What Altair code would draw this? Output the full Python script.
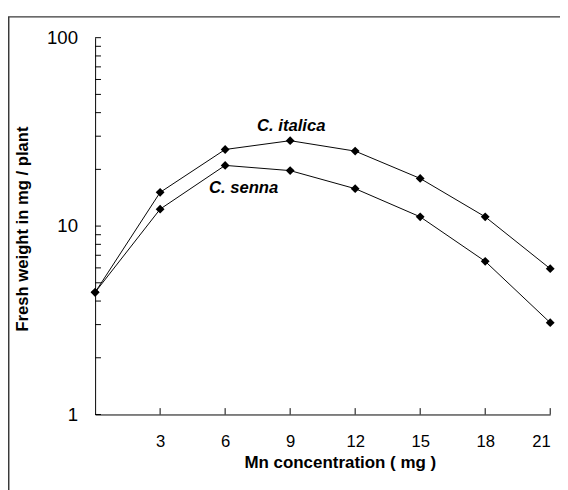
import altair as alt
import pandas as pd

# Data
mn = [0, 3, 6, 9, 12, 15, 18, 21]
italica = [4.45, 15.1, 25.5, 28.4, 25.0, 17.9, 11.2, 5.94]
senna = [4.45, 12.3, 21.0, 19.7, 15.8, 11.2, 6.5, 3.07]

x_tick_values = [3, 6, 9, 12, 15, 18, 21]
y_label_values = [1, 10, 100]
y_tick_values = [1, 2, 3, 4, 5, 6, 7, 8, 9, 10, 20, 30, 40, 50, 60, 70, 80, 90, 100]

label_text = ["C. italica", "C. senna"]
label_x = [9.05, 6.85]
label_y = [34.0, 16.0]

FONT = "Liberation Sans"

rows = []
for name, vals in (("C. italica", italica), ("C. senna", senna)):
    for x, v in zip(mn, vals):
        rows.append({"mn": x, "fw": v, "series": name})
df = pd.DataFrame(rows)

xscale = alt.Scale(domain=[0, 21], nice=False, zero=False)
yscale = alt.Scale(type="log", domain=[1, 100], nice=False)

x_axis = alt.Axis(
    values=x_tick_values, ticks=False, tickSize=0, grid=False,
    domainColor="black", domainWidth=1,
    labelFont=FONT, labelFontSize=17, labelColor="black",
    labelPadding=28, labelBaseline="middle", labelFlush=True,
    title="Mn concentration ( mg )", titleFont=FONT, titleFontSize=17.3,
    titleFontWeight="bold", titleColor="black",
    titleX=250, titleY=49, titleAlign="center", titleBaseline="middle",
)
y_axis = alt.Axis(
    values=y_label_values, format="d", ticks=False, tickSize=0, grid=False,
    domainColor="black", domainWidth=1,
    labelFont=FONT, labelFontSize=19, labelColor="black",
    labelPadding=18, labelBaseline="middle",
    title="Fresh weight in mg / plant", titleFont=FONT, titleFontSize=17,
    titleFontWeight="bold", titleColor="black",
    titleX=-74, titleY=195, titleAngle=270, titleAlign="center",
    titleBaseline="middle",
)

base = alt.Chart(df)

lines = base.mark_line(color="black", strokeWidth=1).encode(
    x=alt.X("mn:Q", scale=xscale, axis=x_axis),
    y=alt.Y("fw:Q", scale=yscale, axis=y_axis),
    detail="series:N",
)
points = base.mark_point(shape="diamond", size=81, filled=True, color="black", opacity=1).encode(
    x=alt.X("mn:Q", scale=xscale, axis=x_axis),
    y=alt.Y("fw:Q", scale=yscale, axis=y_axis),
)

ytick_df = pd.DataFrame({"fw": y_tick_values})
yticks = alt.Chart(ytick_df).mark_rule(color="black", strokeWidth=1).encode(
    y=alt.Y("fw:Q", scale=yscale, axis=y_axis),
    x=alt.value(0),
    x2=alt.value(6),
)
xtick_df = pd.DataFrame({"mn": x_tick_values})
xticks = alt.Chart(xtick_df).mark_rule(color="black", strokeWidth=1).encode(
    x=alt.X("mn:Q", scale=xscale, axis=x_axis),
    y=alt.value(385),
    y2=alt.value(378.5),
)

lab_df = pd.DataFrame({"mn": label_x, "fw": label_y, "t": label_text})
labels = alt.Chart(lab_df).mark_text(
    font=FONT, fontSize=17, fontWeight="bold", fontStyle="italic",
    color="black", align="center", baseline="middle",
).encode(
    x=alt.X("mn:Q", scale=xscale, axis=x_axis),
    y=alt.Y("fw:Q", scale=yscale, axis=y_axis),
    text="t:N",
)

frame = alt.Chart(pd.DataFrame({"a": [0]})).mark_rect(
    fillOpacity=0, stroke="#3a3a3a", strokeWidth=1.5,
).encode(
    x=alt.value(-88.25), x2=alt.value(800),
    y=alt.value(-21.25), y2=alt.value(800),
)

chart = alt.layer(lines, points, yticks, xticks, labels, frame).properties(
    width=465, height=385,
    autosize=alt.AutoSizeParams(type="none"),
    padding={"left": 89, "top": 25, "right": 10, "bottom": 80},
    background="white",
).configure_view(stroke="transparent")

chart.save("out.html", embed_options={"renderer": "svg", "actions": False})
